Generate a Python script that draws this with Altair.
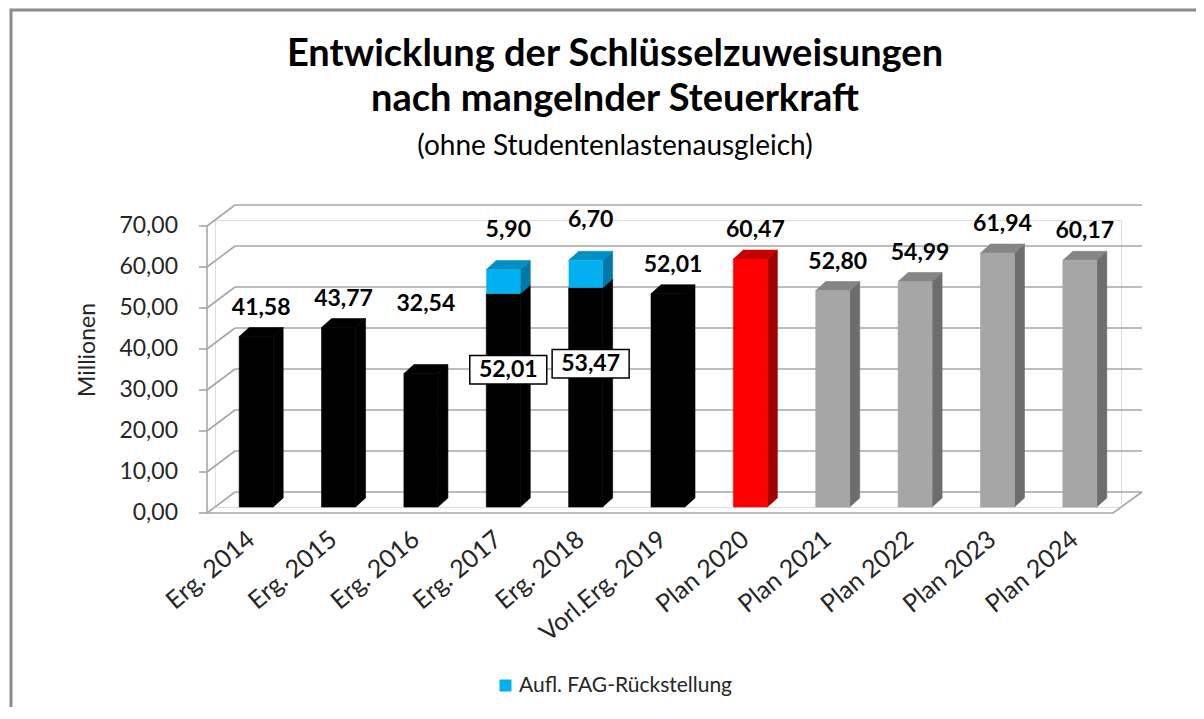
import altair as alt
import pandas as pd

# ---------------- data ----------------
categories = ["Erg. 2014", "Erg. 2015", "Erg. 2016", "Erg. 2017", "Erg. 2018",
              "Vorl.Erg. 2019", "Plan 2020", "Plan 2021", "Plan 2022", "Plan 2023", "Plan 2024"]
base_values = [41.58, 43.77, 32.54, 52.01, 53.47, 52.01, 60.47, 52.80, 54.99, 61.94, 60.17]
fag_values = [None, None, None, 5.90, 6.70, None, None, None, None, None, None]
bar_groups = ["ist", "ist", "ist", "ist", "ist", "ist", "aktuell", "plan", "plan", "plan", "plan"]
y_ticks = [0, 10, 20, 30, 40, 50, 60, 70]
legend_label = "Aufl. FAG-Rückstellung"
title_lines = ["Entwicklung der Schlüsselzuweisungen", "nach mangelnder Steuerkraft"]
subtitle = "(ohne Studentenlastenausgleich)"
y_title = "Millionen"

# ---------------- style / layout ----------------
FONT = "Lato"
W, H = 906, 287
YMAX = y_ticks[-1]
N = len(categories)
PX_X = N / W          # data units per pixel (x)
PX_Y = YMAX / H       # data units per pixel (y)
HALF = 17 * PX_X      # half front width of a column
DX = 10 * PX_X        # depth of the columns
DY = 9 * PX_Y
palette = {  # front, side, top
    "ist": ("#000000", "#000000", "#000000"),
    "aktuell": ("#ff0000", "#a30000", "#c40000"),
    "plan": ("#a6a6a6", "#6d6d6d", "#858585"),
    "fag": ("#00b0f0", "#0079a8", "#0090c4"),
}
GRID = "#a6a6a6"
TXT = "#262626"


def fmt(v):
    return f"{v:.2f}".replace(".", ",")


fronts, fronts_fag, sides, tops = [], [], [], []
gid = 0
for i, (b, f, g) in enumerate(zip(base_values, fag_values, bar_groups)):
    segs = [(0, b, g)]
    if f:
        segs.append((b, b + f, "fag"))
    for k, (lo, hi, key) in enumerate(segs):
        cf, cs, ct = palette[key]
        xl, xr = i - HALF, i + HALF
        row = dict(x=xl, x2=xr, y=lo, y2=hi, fill=cf, series=legend_label)
        (fronts_fag if key == "fag" else fronts).append(row)
        sides += [dict(g=gid, x=xr, y=lo, y2=hi, fill=cs),
                  dict(g=gid, x=xr + DX, y=lo + DY, y2=hi + DY, fill=cs)]
        if k == len(segs) - 1:
            tops += [dict(g=gid, x=xl, y=hi, y2=hi, fill=ct),
                     dict(g=gid, x=xl + DX, y=hi, y2=hi + DY, fill=ct),
                     dict(g=gid, x=xr, y=hi, y2=hi + DY, fill=ct),
                     dict(g=gid, x=xr + DX, y=hi + DY, y2=hi + DY, fill=ct)]
        gid += 1

df_front = pd.DataFrame(fronts)
df_front_fag = pd.DataFrame(fronts_fag)
df_side = pd.DataFrame(sides)
df_top = pd.DataFrame(tops)

labels = pd.DataFrame({
    "idx": list(range(N)),
    "cat": categories,
    "base": base_values,
    "fag": [f if f else 0 for f in fag_values],
})
labels["total"] = labels["base"] + labels["fag"]
labels["base_txt"] = [fmt(v) for v in base_values]
labels["fag_txt"] = [fmt(f) if f else "" for f in fag_values]
labels["stacked"] = [bool(f) for f in fag_values]
labels["zero"] = 0

ticks_df = pd.DataFrame({"v": y_ticks, "txt": [fmt(v) for v in y_ticks]})
one = pd.DataFrame({"v": [0], "hi": [YMAX]})
titles_df = pd.DataFrame({"t1": [title_lines[0]], "t2": [title_lines[1]],
                          "st": [subtitle], "yt": [y_title]})

xs = alt.Scale(domain=[-0.5, N - 0.5], nice=False, zero=False)
ys = alt.Scale(domain=[0, YMAX], nice=False, zero=False)

X = lambda f: alt.X(f, type="quantitative", scale=xs, axis=None)
Y = lambda f: alt.Y(f, type="quantitative", scale=ys, axis=None)

# frame
frame = alt.Chart(one).mark_rect(fillOpacity=0, stroke="#8c8c8c", strokeWidth=3).encode(
    x=alt.value(-204), x2=alt.value(1200), y=alt.value(-210), y2=alt.value(700))

# titles
t1 = alt.Chart(titles_df).mark_text(font=FONT, fontSize=38, fontWeight="bold", color="#000000",
                                    align="center", baseline="middle").encode(
    x=alt.value(400), y=alt.value(-165), text="t1:N")
t2 = alt.Chart(titles_df).mark_text(font=FONT, fontSize=38, fontWeight="bold", color="#000000",
                                    align="center", baseline="middle").encode(
    x=alt.value(400), y=alt.value(-120), text="t2:N")
st = alt.Chart(titles_df).mark_text(font=FONT, fontSize=28, color="#000000",
                                    align="center", baseline="middle").encode(
    x=alt.value(400), y=alt.value(-73), text="st:N")
yt = alt.Chart(titles_df).mark_text(font=FONT, fontSize=23, color=TXT, angle=270,
                                    align="center", baseline="middle").encode(
    x=alt.value(-127), y=alt.value(130), text="yt:N")

# back wall gridlines
back = alt.Chart(ticks_df).mark_rule(color=GRID, strokeWidth=1.6, yOffset=-15).encode(
    y=Y("v"), x=alt.value(20), x2=alt.value(927))
# left side diagonals
diag = alt.Chart(ticks_df).mark_rule(color=GRID, strokeWidth=1.6, yOffset=6, y2Offset=-15).encode(
    y=Y("v"), y2="v", x=alt.value(-8), x2=alt.value(20))
# front axis ticks + labels
tick_marks = alt.Chart(ticks_df).mark_rule(color=GRID, strokeWidth=1.6, yOffset=6).encode(
    y=Y("v"), x=alt.value(-16), x2=alt.value(-8))
tick_labels = alt.Chart(ticks_df).mark_text(font=FONT, fontSize=23, color=TXT, align="right",
                                            baseline="middle", yOffset=6).encode(
    y=Y("v"), x=alt.value(-37), text="txt:N")

floor_front = alt.Chart(one).mark_rule(color=GRID, strokeWidth=1.6, yOffset=6).encode(
    y=Y("v"), x=alt.value(-8), x2=alt.value(898))
floor_right = alt.Chart(one).mark_rule(color=GRID, strokeWidth=1.6, yOffset=6, y2Offset=-15).encode(
    y=Y("v"), y2="v", x=alt.value(898), x2=alt.value(927))
front_axis = alt.Chart(one).mark_rule(color=GRID, strokeWidth=1.6, yOffset=6, y2Offset=6).encode(
    y=Y("v"), y2="hi", x=alt.value(-8))

# columns
side_layer = alt.Chart(df_side).mark_area(orient="vertical", strokeWidth=0.6).encode(
    x=X("x"), y=Y("y"), y2="y2", detail="g:N",
    color=alt.Color("fill:N", scale=None), stroke=alt.Stroke("fill:N", scale=None))
top_layer = alt.Chart(df_top).mark_area(orient="vertical", strokeWidth=0.6).encode(
    x=X("x"), y=Y("y"), y2="y2", detail="g:N",
    color=alt.Color("fill:N", scale=None), stroke=alt.Stroke("fill:N", scale=None))
front_layer = alt.Chart(df_front).mark_rect(strokeWidth=0.6).encode(
    x=X("x"), x2="x2", y=Y("y"), y2="y2",
    color=alt.Color("fill:N", scale=None), stroke=alt.Stroke("fill:N", scale=None))
front_fag = alt.Chart(df_front_fag).mark_rect().encode(
    x=X("x"), x2="x2", y=Y("y"), y2="y2",
    fill=alt.Fill("series:N", scale=alt.Scale(domain=[legend_label], range=[palette["fag"][0]]),
                  legend=alt.Legend(orient="none", legendX=280, legendY=455, title=None,
                                    symbolType="square", symbolSize=144, symbolStrokeWidth=0,
                                    labelFont=FONT, labelFontSize=21, labelColor=TXT,
                                    labelLimit=600, labelOffset=3, padding=0)))

# value labels
lab_style = dict(font=FONT, fontSize=23, fontWeight="bold", color="#000000",
                 baseline="middle", align="center", xOffset=5)
top_labels = alt.Chart(labels).transform_filter(
    "!datum.stacked && datum.idx != 2").mark_text(yOffset=-29, **lab_style).encode(
    x=X("idx"), y=Y("total"), text="base_txt:N")
top_label_low = alt.Chart(labels).transform_filter("datum.idx == 2").mark_text(
    yOffset=-70, **lab_style).encode(x=X("idx"), y=Y("total"), text="base_txt:N")
fag_labels = alt.Chart(labels).transform_filter("datum.stacked").mark_text(
    yOffset=-40, **lab_style).encode(x=X("idx"), y=Y("total"), text="fag_txt:N")
box_path = "M-1,-0.37L1,-0.37L1,0.37L-1,0.37Z"
boxes = alt.Chart(labels).transform_filter("datum.stacked").mark_point(
    shape=box_path, size=77 * 77, filled=True, fill="#ffffff", fillOpacity=1,
    stroke="#000000", strokeWidth=1.5, opacity=1, xOffset=5, yOffset=76).encode(
    x=X("idx"), y=Y("base"))
box_labels = alt.Chart(labels).transform_filter("datum.stacked").mark_text(
    font=FONT, fontSize=23, fontWeight="bold", color="#000000", baseline="middle",
    align="center", xOffset=5, yOffset=76).encode(x=X("idx"), y=Y("base"), text="base_txt:N")

# category labels
cat_labels = alt.Chart(labels).mark_text(
    font=FONT, fontSize=25, color=TXT, angle=320, align="right", baseline="middle",
    xOffset=-5, yOffset=29).encode(x=X("idx"), y=Y("zero"), text="cat:N")

chart = alt.layer(
    frame, t1, t2, st, yt, back, diag, tick_marks, tick_labels,
    floor_front, floor_right, front_axis,
    side_layer, top_layer, front_layer, front_fag,
    top_labels, top_label_low, fag_labels, boxes, box_labels, cat_labels,
).properties(
    width=W, height=H,
    autosize=alt.AutoSizeParams(type="none"),
    padding={"left": 207, "top": 212, "right": 75, "bottom": 200},
).configure_view(stroke=None).configure(background="#ffffff")

chart.save("out.html", embed_options={"renderer": "svg", "actions": False})
